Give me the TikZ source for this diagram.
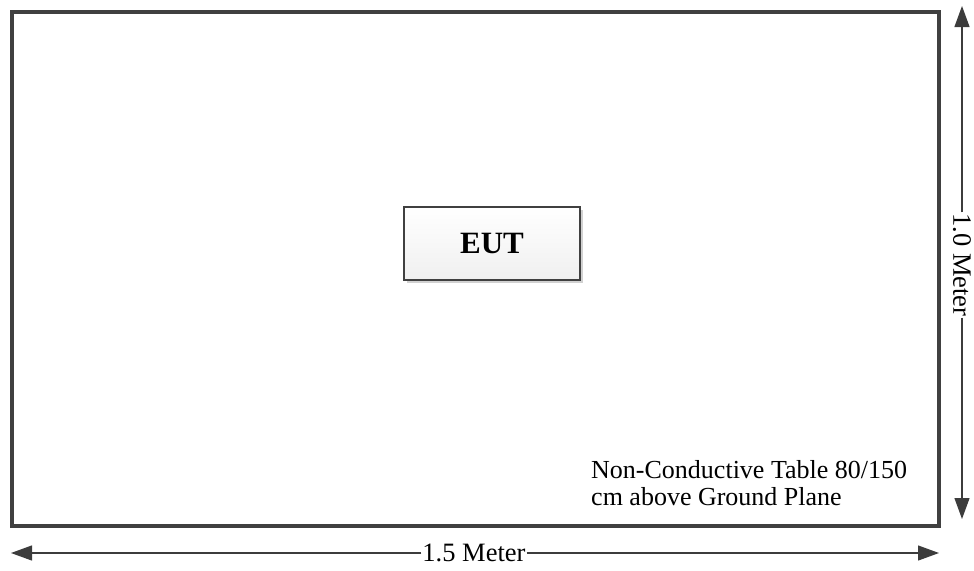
\documentclass[tikz,border=0pt]{standalone}
\usepackage{fontspec}
\setmainfont{Liberation Serif}
\usepackage{tikz}
\usetikzlibrary{arrows.meta, positioning, shadows}
\definecolor{framegray}{RGB}{64,64,64}
\definecolor{arrowgray}{RGB}{60,60,60}

\begin{document}
\begin{tikzpicture}[
    x=1pt, y=-1pt,
    tablebox/.style={draw=framegray, line width=3.5pt},
    eutbox/.style={rectangle, draw=framegray, line width=2.4pt,
                   top color=white, bottom color=black!6,
                   minimum width=176pt, minimum height=73pt,
                   font=\fontsize{31}{35}\selectfont\bfseries,
                   drop shadow={shadow xshift=3pt, shadow yshift=-3pt, fill=black!18, opacity=1}},
    dimarr/.style={-{Triangle[length=21pt, width=15pt]}, line width=1.2pt, arrowgray},
    dimlabel/.style={fill=white, inner sep=1pt, font=\fontsize{26.5}{30}\selectfont},
    note/.style={align=left, inner sep=0pt, font=\fontsize{26}{27}\selectfont}
  ]
    \useasboundingbox (0,0) rectangle (974,570);
    \draw[tablebox] (12,12) rectangle (939,526);
    \node[eutbox] (eut) at (492,243.5) {EUT};
    \node[note, anchor=north west] (tabletext) at (591,460)
        {Non-Conductive Table 80/150\\cm above Ground Plane};
    % width dimension
    \coordinate (wleft)  at (11,553);
    \coordinate (wright) at (939,553);
    \node[dimlabel] (wlabel) at (474,553) {1.5 Meter};
    \draw[dimarr] (wlabel) -- (wleft);
    \draw[dimarr] (wlabel) -- (wright);
    % depth dimension
    \coordinate (dtop) at (962,6);
    \coordinate (dbot) at (962,519);
    \node[dimlabel, rotate=-90] (dlabel) at (962,265) {1.0 Meter};
    \draw[dimarr] (dlabel) -- (dtop);
    \draw[dimarr] (dlabel) -- (dbot);
\end{tikzpicture}
\end{document}
